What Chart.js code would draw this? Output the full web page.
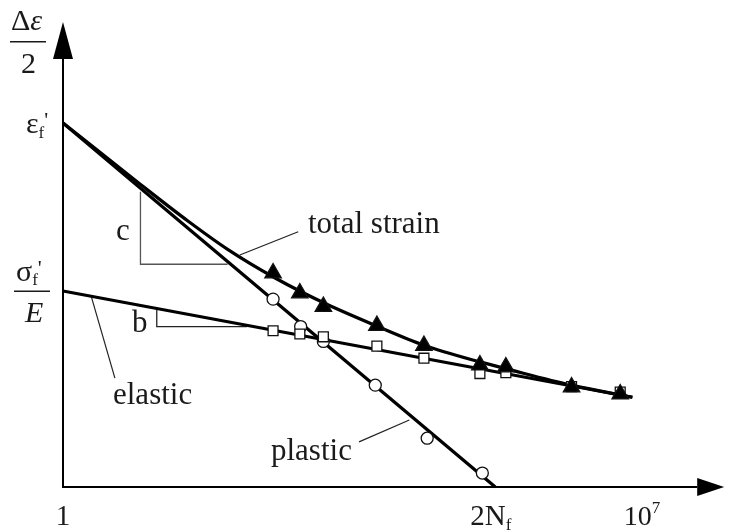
<!DOCTYPE html>
<html>
<head>
<meta charset="utf-8">
<script src="https://cdn.jsdelivr.net/npm/chart.js@4"></script>
<style>
  body { margin: 0; background: #fff; }
  canvas { display: block; }
</style>
</head>
<body>
<canvas id="strainLife" width="735" height="530"></canvas>
<script>
// x = log10(2N), y = log strain (schematic units)
var plasticLine = [[0, 7.83], [5.33, 0]];
var elasticLine = [[0, 4.215], [7.02, 1.93]];
var totalCurve = [[0, 7.83], [0.96, 6.50], [1.54, 5.72], [2.03, 5.11], [2.61, 4.50], [3.24, 3.94],
  [3.87, 3.46], [4.45, 3.05], [5.14, 2.69], [5.47, 2.54], [6.27, 2.19], [7.02, 1.93]];

var totalPts = [[2.59, 4.60], [2.92, 4.17], [3.21, 3.88], [3.87, 3.47], [4.45, 3.04], [5.14, 2.62],
  [5.46, 2.58], [6.27, 2.15], [6.87, 2.00]];
var elasticPts = [[2.59, 3.36], [2.92, 3.29], [3.21, 3.23], [3.87, 3.03], [4.45, 2.77], [5.14, 2.44],
  [5.46, 2.46], [6.27, 2.16], [6.87, 2.04]];
var plasticPts = [[2.59, 4.04], [2.93, 3.45], [3.21, 3.13], [3.85, 2.19], [4.49, 1.05], [5.17, 0.30]];

// slope triangles and leader lines
var slopeC = [[0.955, 6.35], [0.955, 4.79], [2.03, 4.79]];
var slopeB = [[1.156, 3.81], [1.156, 3.45], [2.27, 3.45]];
var leaderTotal = [[2.18, 4.99], [2.90, 5.49]];
var leaderElastic = [[0.35, 4.09], [0.64, 2.34]];
var leaderPlastic = [[3.65, 0.97], [4.27, 1.44]];

var xTickValues = [0, 5.33, 7];
var yTickValues = [7.83, 4.215];

function pts(arr) {
  return arr.map(function (p) { return { x: p[0], y: p[1] }; });
}

function serif(size, style) {
  return (style ? style + ' ' : '') + size + 'px "Liberation Serif", "DejaVu Serif", serif';
}

// draw a run of text pieces: [text, size, dy, style]
function rich(ctx, parts, x, y) {
  var cx = x;
  parts.forEach(function (p) {
    ctx.font = serif(p[1], p[3]);
    ctx.fillText(p[0], cx, y + (p[2] || 0));
    cx += ctx.measureText(p[0]).width;
  });
}

var axesPlugin = {
  id: 'axesPlugin',
  beforeDatasetsDraw: function (chart) {
    var ctx = chart.ctx;
    var xs = chart.scales.x, ys = chart.scales.y;
    var x0 = xs.getPixelForValue(0), y0 = ys.getPixelForValue(0);
    var top = chart.chartArea.top, right = chart.chartArea.right;
    ctx.save();
    ctx.strokeStyle = '#000';
    ctx.fillStyle = '#000';
    ctx.lineWidth = 2;
    ctx.beginPath();
    ctx.moveTo(x0, y0 + 1);
    ctx.lineTo(x0, top + 37);
    ctx.moveTo(x0 - 1, y0);
    ctx.lineTo(right - 27, y0);
    ctx.stroke();
    ctx.beginPath();
    ctx.moveTo(x0 - 10, top + 37);
    ctx.lineTo(x0 + 10, top + 37);
    ctx.lineTo(x0, top);
    ctx.closePath();
    ctx.fill();
    ctx.beginPath();
    ctx.moveTo(right - 27, y0 - 9);
    ctx.lineTo(right - 27, y0 + 9);
    ctx.lineTo(right, y0);
    ctx.closePath();
    ctx.fill();
    ctx.restore();
  },
  afterDraw: function (chart) {
    var ctx = chart.ctx;
    var xs = chart.scales.x, ys = chart.scales.y;
    ctx.save();
    ctx.fillStyle = '#1a1a1a';
    ctx.textBaseline = 'alphabetic';
    ctx.textAlign = 'left';

    // y axis title
    rich(ctx, [['\u0394', 30], ['\u03b5', 30, 0, 'italic']], 11, 30);
    ctx.fillRect(10, 41, 36, 1.5);
    rich(ctx, [['2', 30]], 21, 73);

    // y labels
    var yE = ys.getPixelForValue(yTickValues[0]);
    rich(ctx, [['\u03b5', 30], ['f', 17, 5], ["'", 22, -6]], 26, yE + 10);
    var yS = ys.getPixelForValue(yTickValues[1]);
    rich(ctx, [['\u03c3', 30], ['f', 17, 4], ["'", 22, -6]], 16, yS - 10);
    ctx.fillRect(14, yS - 0.5, 36, 1.5);
    rich(ctx, [['E', 30, 0, 'italic']], 25, yS + 31);

    // x labels
    var base = 525;
    ctx.font = serif(29);
    ctx.textAlign = 'center';
    ctx.fillText('1', xs.getPixelForValue(xTickValues[0]), base);
    ctx.textAlign = 'left';
    rich(ctx, [['2N', 29], ['f', 17, 5]], xs.getPixelForValue(xTickValues[1]) - 25, base);
    rich(ctx, [['10', 28], ['7', 17, -12]], xs.getPixelForValue(xTickValues[2]) - 7, base);

    // curve labels
    rich(ctx, [['total strain', 31]], 308, 233);
    rich(ctx, [['c', 31]], 116, 240);
    rich(ctx, [['b', 31]], 132, 332);
    rich(ctx, [['elastic', 31]], 113, 404);
    rich(ctx, [['plastic', 31]], 271, 460);
    ctx.restore();
  }
};

var lineDs = function (data, width, color, extra) {
  var ds = {
    data: pts(data),
    showLine: true,
    borderColor: color,
    borderWidth: width,
    pointRadius: 0,
    fill: false,
    order: 2
  };
  for (var k in extra) ds[k] = extra[k];
  return ds;
};

var markerDs = function (data, style, radius, fillColor) {
  return {
    data: pts(data),
    showLine: false,
    pointStyle: style,
    pointRadius: radius,
    backgroundColor: fillColor,
    borderColor: '#111',
    borderWidth: 1.3,
    order: 0
  };
};

new Chart(document.getElementById('strainLife').getContext('2d'), {
  type: 'scatter',
  data: {
    datasets: [
      markerDs(totalPts, 'triangle', 9.5, '#000'),
      markerDs(elasticPts, 'rect', 7, '#fff'),
      markerDs(plasticPts, 'circle', 6, '#fff'),
      lineDs(plasticLine, 3.2, '#000'),
      lineDs(elasticLine, 3.2, '#000'),
      lineDs(totalCurve, 3.2, '#000', { cubicInterpolationMode: 'monotone' }),
      lineDs(slopeC, 1.3, '#555'),
      lineDs(slopeB, 1.3, '#222'),
      lineDs(leaderTotal, 1.2, '#222'),
      lineDs(leaderElastic, 1.2, '#222'),
      lineDs(leaderPlastic, 1.2, '#222')
    ]
  },
  options: {
    responsive: false,
    animation: false,
    clip: false,
    layout: { padding: { left: 63, right: 0, top: 22, bottom: 43 } },
    plugins: { legend: { display: false }, tooltip: { enabled: false } },
    scales: {
      x: { type: 'linear', min: 0, max: 8.152, display: false },
      y: { type: 'linear', min: 0, max: 10, display: false }
    }
  },
  plugins: [axesPlugin]
});
</script>
</body>
</html>
